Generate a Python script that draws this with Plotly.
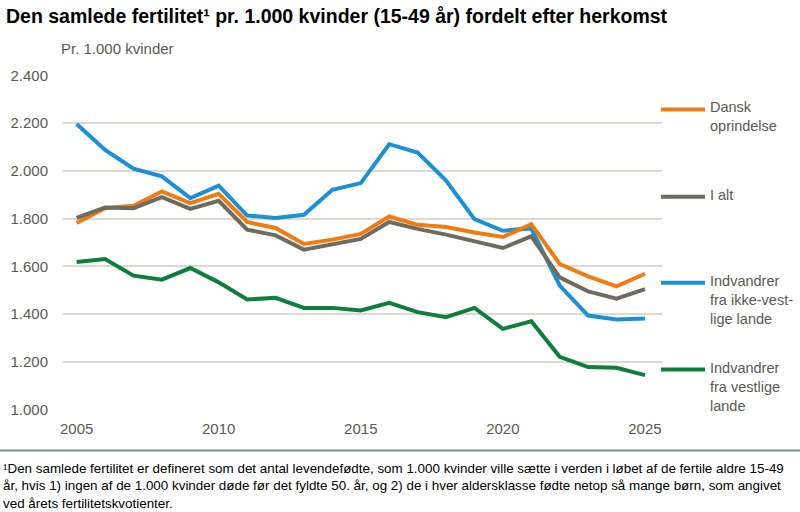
import plotly.graph_objects as go

years = list(range(2005, 2026))
dansk = [1782, 1844, 1854, 1914, 1865, 1904, 1786, 1761, 1694, 1712, 1736, 1809, 1774, 1765, 1742, 1723, 1777, 1610, 1558, 1516, 1569]
i_alt = [1803, 1847, 1844, 1890, 1841, 1875, 1754, 1730, 1670, 1692, 1715, 1786, 1757, 1733, 1705, 1677, 1726, 1554, 1495, 1465, 1505]
ikke_vest = [2197, 2088, 2009, 1977, 1886, 1938, 1813, 1803, 1816, 1921, 1949, 2112, 2077, 1960, 1798, 1749, 1759, 1519, 1394, 1377, 1381]
vestlige = [1618, 1631, 1561, 1544, 1593, 1533, 1461, 1468, 1426, 1426, 1415, 1447, 1408, 1387, 1426, 1338, 1370, 1221, 1178, 1175, 1144]

series_names = ["Dansk<br>oprindelse", "I alt", "Indvandrer<br>fra ikke-vest-<br>lige lande", "Indvandrer<br>fra vestlige<br>lande"]
series_values = [dansk, i_alt, ikke_vest, vestlige]
colors = ["#F37A10", "#6E6C60", "#1A90D8", "#0C7F3C"]

tick_vals = [1000, 1200, 1400, 1600, 1800, 2000, 2200, 2400]
tick_text = ["1.000", "1.200", "1.400", "1.600", "1.800", "2.000", "2.200", "2.400"]
x_ticks = [2005, 2010, 2015, 2020, 2025]

W, H = 800, 512
PL, PR, PT, PB = 63, 662, 75, 410.5


def px(x):
    return (x - PL) / (PR - PL)


def py(y):
    return (PB - y) / (PB - PT)


fig = go.Figure()
for i in [2, 0, 1, 3]:
    fig.add_trace(go.Scatter(x=years, y=series_values[i], mode="lines",
                             line=dict(color=colors[i], width=4), showlegend=False,
                             name=series_names[i].replace("<br>", " ")))

base = "Liberation Sans, Arial, sans-serif"
txtcol = "#5A5A50"

fig.update_layout(
    width=W, height=H,
    margin=dict(l=PL, r=W - PR, t=PT, b=H - PB),
    plot_bgcolor="white", paper_bgcolor="white",
    xaxis=dict(range=[2004.52, 2025.6], tickvals=x_ticks, showgrid=False, zeroline=False,
               showline=False, ticks="", automargin=False, ticklabelstandoff=8,
               tickfont=dict(family=base, size=15, color=txtcol)),
    yaxis=dict(range=[998, 2402], tickvals=tick_vals, ticktext=tick_text, showgrid=True,
               gridcolor="#DCD9D0", gridwidth=1.5, zeroline=False, showline=False, ticks="",
               automargin=False, ticklabelstandoff=14,
               tickfont=dict(family=base, size=15, color=txtcol)),
    font=dict(family=base),
)

annotations = [
    dict(text="<b>Den samlede fertilitet¹ pr. 1.000 kvinder (15-49 år) fordelt efter herkomst</b>",
         x=px(4), y=py(16), xref="paper", yref="paper", xanchor="left", yanchor="middle",
         showarrow=False, font=dict(family=base, size=19.5, color="#000000")),
    dict(text="Pr. 1.000 kvinder", x=px(59), y=py(48), xref="paper", yref="paper",
         xanchor="left", yanchor="middle", showarrow=False, font=dict(family=base, size=15, color=txtcol)),
    dict(text="¹Den samlede fertilitet er defineret som det antal levendefødte, som 1.000 kvinder ville sætte i verden i løbet af de fertile aldre 15-49<br>"
              "år, hvis 1) ingen af de 1.000 kvinder døde før det fyldte 50. år, og 2) de i hver aldersklasse fødte netop så mange børn, som angivet<br>"
              "ved årets fertilitetskvotienter.",
         x=px(1), y=py(460), xref="paper", yref="paper", xanchor="left", yanchor="top", align="left",
         showarrow=False, font=dict(family=base, size=13.4, color="#000000")),
]
shapes = [dict(type="line", xref="paper", yref="paper", x0=px(0), x1=px(W), y0=py(451), y1=py(451),
               line=dict(color="#7D8C8C", width=2))]

# legend (manual, to the right of the plot)
legend_y = [109.5, 197, 283, 370]
for i in range(4):
    shapes.append(dict(type="line", xref="paper", yref="paper", x0=px(661), x1=px(705),
                       y0=py(legend_y[i]), y1=py(legend_y[i]),
                       line=dict(color=colors[i], width=4)))
    annotations.append(dict(text=series_names[i], x=px(708), y=py(legend_y[i] - 12),
                            xref="paper", yref="paper", xanchor="left", yanchor="top", align="left",
                            showarrow=False, font=dict(family=base, size=14.5, color=txtcol)))

fig.update_layout(annotations=annotations, shapes=shapes)
fig.write_html("out.html", config={"displayModeBar": False},
               post_script="document.body.style.margin='0';document.body.style.overflow='hidden';")
